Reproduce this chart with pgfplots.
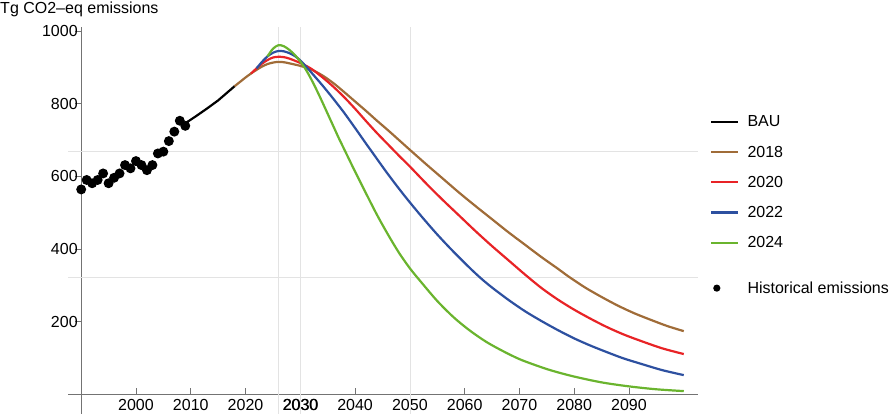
\documentclass[border=0pt]{standalone}
\usepackage{fontspec}
\setmainfont{Liberation Sans}
\usepackage{pgfplots}
\pgfplotsset{compat=1.18}
\newcommand\ff{\fontsize{16}{19.2}\selectfont}
\definecolor{cBrown}{RGB}{160,108,56}
\definecolor{cRed}{RGB}{232,35,38}
\definecolor{cBlue}{RGB}{45,80,160}
\definecolor{cGreen}{RGB}{106,180,46}
\begin{document}
\begin{tikzpicture}
\begin{axis}[
    at={(68pt,0pt)}, anchor=south west,
    scale only axis, width=630pt, height=387pt,
    xmin=-2.41, xmax=112.6, ymin=-54, ymax=1011,
    axis lines=middle,
    axis line style={-, black!55, line width=0.7pt},
    x filter/.expression={x-1990},
    xtick={10,20,30,40,50,60,70,80,90,100},
    xticklabels={2000,2010,2020,2030,2040,2050,2060,2070,2080,2090},
    ytick={200,400,600,800,1000},
    extra x ticks={36.05,40,60},
    extra x tick labels={,2030,},
    extra x tick style={grid=major, major tick length=0pt,
        xticklabel style={xshift=0.5pt}},
    extra y ticks={322,669},
    extra y tick labels={},
    extra y tick style={grid=major, major tick length=0pt},
    grid style={black!11, line width=0.7pt},
    tick align=inside,
    major tick length=6pt,
    tick style={black!55, line width=0.7pt},
    ytick style={xshift=-6pt},
    /pgf/number format/assume math mode=true,
    /pgf/number format/1000 sep={},
    tick label style={font=\ff},
    xticklabel style={yshift=-1.8pt},
    every axis y label/.style={at={(axis description cs:-0.1079,1.0354)},
        anchor=base west, inner sep=0pt, font=\ff},
    ylabel={Tg CO2–eq emissions},
    legend image code/.code={\draw[#1] (0pt,0pt) -- (26.7pt,0pt);},
    legend style={at={(axis description cs:1.0189,0.776)}, anchor=north west,
        draw=none, fill=none, font=\ff, row sep=13.5pt, inner sep=0pt,
        /tikz/every odd column/.append style={column sep=6.5pt}},
    legend cell align=left,
    every axis plot/.append style={line width=2.2pt},
]
% BAU
\addplot[black, no markers] coordinates {
(2009,746)(2011,766)(2013,787)(2015,809)(2017,835)(2018,848)};
\addlegendentry{BAU}
% 2018
\addplot[cBrown, no markers, smooth] coordinates {
(2018,848)(2019,860)(2020,872)(2021,883)(2022,893)(2023,902)(2024,909)
(2025,913)(2026,915)(2027,914)(2028,911)(2030,904)(2032,894)(2034,878)
(2036,857)(2038,832)(2040,806)(2042,780)(2044,753)(2046,727)(2048,700)
(2050,673)(2053,633)(2056,594)(2059,555)(2062,518)(2065,482)(2068,446)
(2071,412)(2074,378)(2077,346)(2079,324)(2082,294)(2085,268)(2088,244)
(2091,223)(2094,205)(2097,188)(2100,174)};
\addlegendentry{2018}
% 2020
\addplot[cRed, no markers, smooth] coordinates {
(2021,883)(2022,897)(2023,910)(2024,920)(2025,927)(2026,929)(2027,928)
(2028,924)(2030,912)(2032,896)(2034,873)(2036,847)(2038,818)(2040,786)
(2042,752)(2044,719)(2046,688)(2048,657)(2050,627)(2053,580)(2056,535)
(2059,492)(2062,449)(2065,408)(2068,369)(2071,330)(2074,293)(2077,261)
(2080,233)(2083,208)(2086,185)(2089,165)(2092,148)(2096,127)(2100,111)};
\addlegendentry{2020}
% 2022
\addplot[cBlue, no markers, smooth] coordinates {
(2022,897)(2023,915)(2024,930)(2025,940)(2026,945)(2027,944)(2028,939)
(2029,931)(2030,919)(2031,903)(2032,886)(2034,851)(2036,814)(2038,775)
(2040,733)(2042,690)(2043,669)(2046,606)(2049,547)(2052,492)(2055,440)
(2058,392)(2061,347)(2063,319)(2065,294)(2068,260)(2071,229)(2074,202)
(2077,177)(2080,154)(2083,134)(2086,116)(2089,99)(2092,85)(2096,67)
(2100,53)};
\addlegendentry{2022}
% 2024
\addplot[cGreen, no markers, smooth] coordinates {
(2024,930)(2025,951)(2026,961)(2027,958)(2028,948)(2029,934)(2030,916)
(2031,894)(2032,867)(2033,837)(2034,805)(2035,772)(2036,739)(2037,706)
(2038,675)(2040,613)(2042,553)(2044,494)(2046,440)(2048,390)(2050,347)
(2052,310)(2055,257)(2058,212)(2061,175)(2064,144)(2067,119)(2070,97)
(2073,80)(2076,65)(2080,49)(2085,33)(2090,22)(2095,14)(2100,9)};
\addlegendentry{2024}
\addlegendimage{empty legend}
\addlegendentry[inner sep=0pt]{}
% historical emissions
\addplot[black, only marks, mark=*, mark size=3.8pt,
    legend image code/.code={\fill[black] (5.6pt,0pt) circle (2.4pt);}]
coordinates {
(1990,564)(1991,590)(1992,581)(1993,590)(1994,608)(1995,581)(1996,596)
(1997,608)(1998,631)(1999,622)(2000,642)(2001,631)(2002,617)(2003,631)
(2004,663)(2005,668)(2006,697)(2007,723)(2008,753)(2009,739)};
\addlegendentry{Historical emissions}
\end{axis}
\pgfresetboundingbox
\useasboundingbox (0,0) rectangle (891pt,414pt);
\end{tikzpicture}
\end{document}
